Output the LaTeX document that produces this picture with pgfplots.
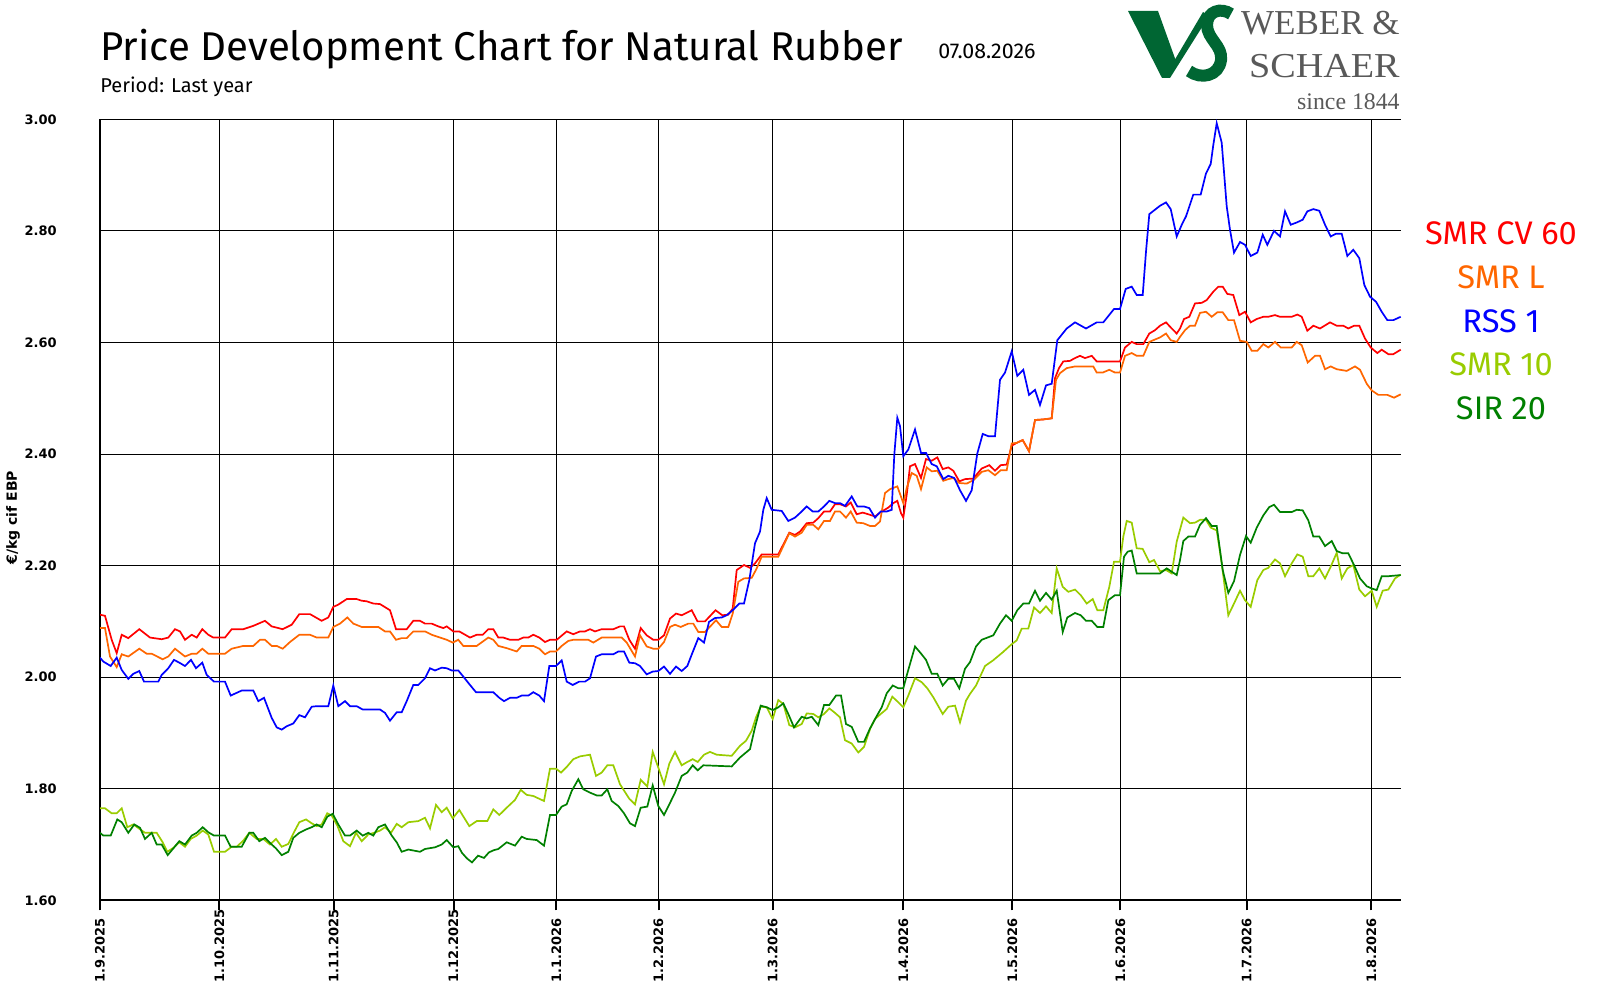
\documentclass[border=0pt]{standalone}
\usepackage{fontspec}
\usepackage{pgfplots}
\pgfplotsset{compat=1.18}
\setmainfont{Fira Sans}
\newfontfamily\djb{DejaVu Sans}
\newfontfamily\serifl{Liberation Serif}
\definecolor{smrcv}{HTML}{FF0000}
\definecolor{smrl}{HTML}{FF6600}
\definecolor{rss}{HTML}{0000FF}
\definecolor{smrten}{HTML}{99CC00}
\definecolor{sirtw}{HTML}{008000}
\definecolor{logogreen}{HTML}{006633}
\definecolor{logogray}{HTML}{595959}
\begin{document}
\begin{tikzpicture}
\path[use as bounding box] (0,0) rectangle (800pt,-500pt);
% titles
\node[anchor=base west, inner sep=0pt, font=\fontsize{20.1pt}{24pt}\selectfont] at (50pt,-30.5pt) {Price Development Chart for Natural Rubber};
\node[anchor=base west, inner sep=0pt, font=\fontsize{10.7pt}{12pt}\selectfont] at (469pt,-29.5pt) {07.08.2026};
\node[anchor=base west, inner sep=0pt, font=\fontsize{10pt}{12pt}\selectfont] at (50pt,-46.3pt) {Period: Last year};
% logo (graphic)
\begin{scope}[x=0.5pt, y=-0.5pt]
\fill[logogreen] (1128,11) -- (1158,11) -- (1177,64) -- (1169,78) -- (1162,78) -- cycle;
\fill[logogreen] (1164,78) -- (1170,78) -- (1209,16) -- (1203,12) -- cycle;
\draw[logogreen, line width=6pt, line cap=butt] (1231,14) .. controls (1221,7) and (1207,11) .. (1207,25) .. controls (1207,39) and (1223,46) .. (1221,60) .. controls (1219,76) and (1201,80) .. (1189,71);
\end{scope}
\node[anchor=base east, inner sep=0pt, text=logogray, font=\serifl\fontsize{17.5pt}{20pt}\selectfont] at (700pt,-17.5pt) {WEBER \&};
\node[anchor=base east, inner sep=0pt, text=logogray, font=\serifl\fontsize{17.5pt}{20pt}\selectfont] at (700pt,-39pt) {\scalebox{1.09}[1]{SCHAER}};
\node[anchor=base east, inner sep=0pt, text=logogray, font=\serifl\fontsize{11.9pt}{14pt}\selectfont] at (700pt,-55pt) {since 1844};
% legend labels
\node[anchor=base, inner sep=0pt, text=smrcv, font=\fontsize{16.3pt}{18pt}\selectfont] at (750.5pt,-122.25pt) {SMR CV 60};
\node[anchor=base, inner sep=0pt, text=smrl, font=\fontsize{16.3pt}{18pt}\selectfont] at (750.5pt,-144.25pt) {SMR L};
\node[anchor=base, inner sep=0pt, text=rss, font=\fontsize{16.3pt}{18pt}\selectfont] at (750.5pt,-166.25pt) {RSS 1};
\node[anchor=base, inner sep=0pt, text=smrten, font=\fontsize{16.3pt}{18pt}\selectfont] at (750.5pt,-187.75pt) {SMR 10};
\node[anchor=base, inner sep=0pt, text=sirtw, font=\fontsize{16.3pt}{18pt}\selectfont] at (750.5pt,-209.75pt) {SIR 20};
\begin{axis}[
  scale only axis, width=650.5pt, height=390.5pt,
  at={(50pt,-450.15pt)}, anchor=south west,
  xmin=100, xmax=1401, ymin=1.6, ymax=3.0,
  axis x line=bottom, axis y line=left,
  axis line style={-, line width=1pt, black},
  xtick={100,219.3,333.7,453.5,556.3,658.5,772.7,903.3,1012.3,1120.3,1246.7,1371.3},
  xticklabels={1.9.2025,1.10.2025,1.11.2025,1.12.2025,1.1.2026,1.2.2026,1.3.2026,1.4.2026,1.5.2026,1.6.2026,1.7.2026,1.8.2026},
  ytick={1.6,1.8,2.0,2.2,2.4,2.6,2.8,3.0},
  yticklabels={1.60,1.80,2.00,2.20,2.40,2.60,2.80,3.00},
  grid=major, grid style={black, line width=0.5pt},
  tick align=outside, major tick length=5pt,
  xtick style={black, line width=1pt},
  ytick style={draw=none},
  xticklabel style={font=\djb\bfseries\fontsize{6.5pt}{7pt}\selectfont, yshift=-36.5pt, rotate=90, anchor=west, inner sep=0pt},
  yticklabel style={font=\djb\bfseries\fontsize{6.5pt}{7pt}\selectfont, anchor=east, inner sep=0pt, xshift=-16.5pt},
  ylabel={€/kg cif EBP},
  every axis y label/.style={at={(axis description cs:-0.0669,0.490)}, rotate=90, anchor=center, font=\djb\bfseries\fontsize{7pt}{8pt}\selectfont},
  every axis plot/.append style={line width=0.85pt, mark=none},
]
\addplot[smrcv] coordinates {(100,2.112)(105,2.110)(111.7,2.067)(116.7,2.043)(121.7,2.076)(128.3,2.070)(139.3,2.086)(150,2.071)(161.7,2.068)(168.3,2.071)(175,2.086)(180,2.082)(185,2.067)(191.7,2.076)(196.7,2.071)(202.3,2.086)(208.3,2.076)(213.3,2.071)(225,2.071)(231.7,2.086)(243.3,2.086)(253.3,2.092)(265,2.101)(271.7,2.091)(282.7,2.086)(291.7,2.094)(299.3,2.113)(310,2.113)(321.7,2.101)(328.3,2.107)(333.3,2.126)(338.3,2.130)(346.7,2.140)(356.7,2.140)(361.7,2.137)(366.7,2.136)(373.3,2.132)(380,2.131)(390,2.120)(396,2.086)(406.7,2.086)(413.3,2.101)(420,2.101)(425,2.096)(431.7,2.096)(438.3,2.091)(443.3,2.088)(446.7,2.091)(453.3,2.082)(459.3,2.082)(470,2.071)(476.7,2.076)(482.7,2.076)(488.3,2.086)(493.3,2.086)(498.3,2.071)(503.3,2.071)(510,2.067)(518.3,2.067)(523.3,2.071)(528.3,2.071)(533.3,2.076)(539.3,2.071)(545,2.063)(550,2.067)(556.7,2.067)(566.7,2.082)(573.3,2.077)(580,2.082)(585,2.082)(590,2.086)(595,2.082)(601.7,2.086)(613.3,2.086)(620,2.091)(624,2.091)(629.3,2.067)(635,2.051)(640.7,2.088)(646.7,2.075)(653.3,2.067)(658.3,2.067)(664,2.075)(670,2.105)(676,2.114)(681.7,2.111)(691.7,2.120)(697.5,2.100)(705,2.100)(715.5,2.120)(722.3,2.111)(728.3,2.112)(732.7,2.123)(736.7,2.192)(744,2.201)(750,2.196)(755,2.204)(761.7,2.220)(778.3,2.220)(789.3,2.259)(795,2.255)(800,2.261)(806.7,2.276)(813.3,2.277)(818.3,2.285)(824,2.297)(830,2.297)(835,2.310)(840,2.310)(846,2.306)(850.7,2.313)(856.7,2.292)(862.7,2.295)(868.3,2.292)(875,2.288)(880,2.295)(888.3,2.304)(893.3,2.312)(897.3,2.316)(901,2.294)(903.3,2.286)(906.7,2.327)(910,2.378)(915,2.382)(921,2.357)(926,2.391)(931.7,2.388)(937.3,2.394)(942.7,2.373)(948.3,2.376)(953.3,2.370)(959.3,2.351)(965,2.355)(973.3,2.356)(981.7,2.374)(989.3,2.380)(995,2.370)(1000.7,2.380)(1006.7,2.381)(1011.7,2.415)(1016.7,2.420)(1022.7,2.425)(1029,2.405)(1035,2.461)(1043.3,2.462)(1051.7,2.464)(1055,2.536)(1059,2.554)(1063.3,2.566)(1070,2.567)(1075,2.572)(1080,2.576)(1085,2.572)(1091.7,2.576)(1096.7,2.566)(1120,2.566)(1125,2.591)(1131.7,2.601)(1136.7,2.597)(1143.3,2.597)(1149.3,2.616)(1155,2.622)(1160,2.630)(1166,2.636)(1171.7,2.625)(1176.7,2.616)(1180,2.625)(1184,2.642)(1189.3,2.646)(1195,2.670)(1201.7,2.671)(1206.7,2.676)(1213.3,2.691)(1218.3,2.700)(1222.7,2.700)(1227.3,2.687)(1233.3,2.685)(1239.3,2.649)(1245,2.655)(1250.7,2.636)(1256.7,2.642)(1263.3,2.646)(1268.3,2.646)(1275,2.649)(1280,2.646)(1291.7,2.646)(1297.3,2.650)(1301.7,2.646)(1307.3,2.621)(1313.3,2.630)(1320,2.625)(1330,2.636)(1336.7,2.630)(1343.3,2.630)(1348.3,2.625)(1354,2.630)(1359.3,2.630)(1365,2.607)(1370.7,2.591)(1377.3,2.581)(1381.7,2.587)(1388.3,2.579)(1393.3,2.579)(1400.7,2.587)};
\addplot[smrl] coordinates {(100,2.088)(105,2.088)(110,2.037)(116.7,2.018)(121.7,2.041)(128.3,2.037)(139.3,2.051)(146.7,2.042)(151.7,2.042)(162.7,2.032)(168.3,2.037)(175,2.051)(185,2.037)(191.7,2.042)(196.7,2.042)(202.3,2.051)(208.3,2.042)(225,2.042)(231.7,2.051)(243.3,2.056)(253.3,2.056)(260,2.067)(265,2.067)(271.7,2.056)(276.7,2.056)(282.7,2.051)(290,2.063)(299.3,2.076)(310,2.076)(316.7,2.071)(328.3,2.071)(333.3,2.090)(340,2.096)(347.3,2.107)(353.3,2.096)(361.7,2.090)(378.3,2.090)(385,2.082)(390,2.082)(396,2.067)(401.7,2.070)(406.7,2.070)(413.3,2.082)(425,2.082)(431.7,2.076)(440,2.071)(446.7,2.067)(452.7,2.062)(458.3,2.067)(463.3,2.056)(476.7,2.056)(488.3,2.071)(493.3,2.067)(498.3,2.056)(506.7,2.052)(516.7,2.046)(521.7,2.056)(533.3,2.056)(539.3,2.051)(545,2.041)(550,2.046)(556,2.046)(561.7,2.056)(568.3,2.065)(573.3,2.067)(588.3,2.067)(593.3,2.062)(601.7,2.071)(621.7,2.071)(626.7,2.062)(635,2.037)(640,2.075)(646.7,2.055)(653.3,2.051)(658.3,2.051)(664,2.063)(670,2.090)(675,2.094)(680.7,2.090)(688.3,2.096)(693.3,2.096)(698.3,2.081)(705,2.081)(716,2.102)(721.7,2.090)(728.3,2.090)(732.7,2.114)(738.3,2.171)(744,2.177)(751.7,2.178)(756.7,2.195)(761.7,2.216)(778.3,2.216)(789.3,2.258)(795,2.252)(801.7,2.259)(806.7,2.273)(813.3,2.273)(818.3,2.265)(824,2.280)(830,2.280)(835,2.297)(840,2.297)(846,2.286)(850.7,2.297)(856.7,2.277)(863.3,2.276)(870,2.271)(875,2.271)(880,2.279)(885,2.330)(890,2.337)(897.3,2.342)(903.3,2.312)(906.7,2.339)(911.7,2.366)(916.7,2.361)(921,2.337)(926.7,2.376)(931.7,2.369)(937.3,2.370)(943.3,2.352)(948.3,2.355)(953.3,2.357)(959.3,2.348)(966.7,2.347)(973.3,2.353)(981.7,2.368)(988.3,2.371)(995,2.362)(1000.7,2.371)(1006.7,2.371)(1011.7,2.419)(1016.7,2.420)(1022.7,2.425)(1029,2.405)(1035,2.461)(1043.3,2.462)(1051.7,2.464)(1056,2.533)(1060,2.545)(1066.7,2.554)(1075,2.557)(1093.3,2.557)(1096.7,2.546)(1102.7,2.546)(1109.3,2.551)(1115,2.546)(1120,2.546)(1125,2.576)(1131.7,2.581)(1136.7,2.576)(1143.3,2.576)(1149.3,2.601)(1160,2.609)(1166,2.616)(1170.7,2.604)(1176.7,2.601)(1180,2.610)(1185,2.622)(1190,2.630)(1195,2.630)(1200,2.653)(1206,2.655)(1211.7,2.646)(1217.3,2.654)(1222.7,2.654)(1228.3,2.640)(1234,2.640)(1240,2.603)(1246.7,2.601)(1251.7,2.585)(1257.3,2.585)(1263.3,2.597)(1268.3,2.591)(1275,2.601)(1280.7,2.591)(1291.7,2.591)(1296.7,2.601)(1301.7,2.595)(1307.7,2.564)(1315,2.576)(1320,2.576)(1325,2.552)(1330.7,2.557)(1336.7,2.552)(1346.7,2.549)(1355,2.557)(1360,2.551)(1366.7,2.526)(1371.7,2.514)(1378.3,2.506)(1387.3,2.506)(1394,2.501)(1400.7,2.507)};
\addplot[rss] coordinates {(100,2.035)(103.3,2.028)(110.7,2.020)(116.7,2.035)(121.7,2.013)(128.3,1.997)(133.3,2.006)(139.3,2.011)(144,1.992)(158.3,1.992)(161.7,2.004)(168.3,2.016)(174,2.031)(179.3,2.026)(185,2.020)(191,2.031)(196,2.016)(202.3,2.026)(206.7,2.004)(214,1.992)(225,1.992)(230.7,1.967)(241.7,1.976)(253.3,1.976)(258.3,1.957)(264,1.963)(271.7,1.927)(276.7,1.910)(281.7,1.906)(286.7,1.912)(293.3,1.917)(299.3,1.932)(305,1.928)(311.7,1.947)(316.7,1.948)(328.3,1.948)(333.3,1.985)(338.3,1.948)(345,1.957)(350,1.948)(356.7,1.948)(362.7,1.942)(380,1.942)(385,1.936)(390,1.922)(396.7,1.937)(401.7,1.937)(406.7,1.957)(413.3,1.986)(418.3,1.986)(425,1.998)(430,2.016)(435,2.012)(441.7,2.017)(446.7,2.016)(451.7,2.012)(458.3,2.012)(463.3,2.001)(470,1.986)(476,1.973)(493.3,1.973)(499.3,1.963)(504,1.957)(510,1.963)(516.7,1.963)(521.7,1.967)(528.3,1.967)(533.3,1.973)(539.3,1.967)(544,1.957)(549.3,2.020)(556,2.020)(561.7,2.030)(566.7,1.992)(572.7,1.986)(579.3,1.992)(585,1.992)(590,1.998)(596,2.037)(601.7,2.041)(613.3,2.041)(618.3,2.046)(624,2.046)(629.3,2.026)(635,2.025)(640,2.020)(646.7,2.005)(652.7,2.010)(658.3,2.011)(664,2.019)(670,2.006)(676,2.019)(681.7,2.011)(687.3,2.020)(692.7,2.045)(698.3,2.070)(704,2.062)(709,2.099)(715,2.106)(721.7,2.107)(726.7,2.111)(733.3,2.121)(739.3,2.132)(744,2.132)(749.3,2.174)(755,2.240)(760,2.261)(763.3,2.300)(766.7,2.321)(771.7,2.300)(781.7,2.298)(788.3,2.280)(795,2.286)(801.7,2.297)(806.7,2.306)(812.7,2.297)(818.3,2.297)(824,2.306)(829.3,2.316)(835,2.312)(840,2.312)(845,2.307)(851.7,2.324)(857.3,2.306)(864,2.306)(869.3,2.303)(875,2.286)(880.7,2.297)(886.7,2.297)(891.7,2.300)(894.3,2.399)(897.3,2.465)(900,2.450)(903.3,2.396)(908.3,2.408)(915,2.444)(921,2.402)(926,2.402)(931.7,2.382)(936.7,2.378)(943.3,2.355)(948.3,2.361)(954.3,2.357)(960,2.335)(966,2.316)(971.7,2.335)(977.3,2.401)(982.7,2.436)(988.3,2.432)(995,2.432)(1000,2.533)(1005,2.546)(1011.7,2.584)(1017.3,2.540)(1023.3,2.551)(1029,2.506)(1035,2.515)(1040,2.488)(1046,2.523)(1051.7,2.526)(1057.3,2.604)(1066.7,2.625)(1075,2.636)(1086,2.625)(1096.7,2.636)(1103.3,2.636)(1114,2.660)(1120,2.660)(1125.7,2.696)(1131.7,2.700)(1136.7,2.685)(1142.7,2.685)(1146,2.763)(1149.3,2.830)(1155,2.838)(1160,2.845)(1166,2.851)(1170.7,2.839)(1176.7,2.790)(1182,2.812)(1186,2.826)(1193.3,2.865)(1200.7,2.865)(1206,2.903)(1210.7,2.920)(1213.3,2.954)(1216.7,2.993)(1221.7,2.958)(1226.7,2.844)(1230,2.802)(1234,2.761)(1240,2.780)(1245,2.775)(1250.7,2.755)(1257.3,2.761)(1262.7,2.793)(1267.3,2.775)(1274,2.800)(1280,2.790)(1285,2.835)(1290.7,2.811)(1296.7,2.815)(1302.7,2.820)(1307.3,2.835)(1313.3,2.839)(1319.3,2.836)(1325,2.811)(1330.7,2.790)(1336,2.795)(1341.7,2.795)(1347.3,2.755)(1353.3,2.766)(1359.3,2.751)(1364.3,2.703)(1370,2.682)(1376,2.673)(1381.7,2.655)(1387.3,2.640)(1393.3,2.640)(1400.7,2.646)};
\addplot[smrten] coordinates {(100,1.765)(105,1.765)(111.7,1.756)(116.7,1.756)(121.7,1.765)(127.3,1.731)(133.3,1.736)(145,1.721)(156.7,1.721)(162.7,1.704)(167.3,1.687)(173.3,1.694)(179.3,1.704)(185,1.696)(190.7,1.710)(196.7,1.716)(202.7,1.725)(208.3,1.718)(214,1.687)(225,1.687)(231.7,1.696)(236.7,1.696)(243.3,1.707)(249.3,1.721)(256.7,1.710)(263.3,1.710)(270,1.700)(276,1.710)(281.7,1.696)(288.3,1.701)(294,1.722)(299.3,1.740)(306,1.745)(311.7,1.738)(316.7,1.733)(321.7,1.736)(327.3,1.756)(331.7,1.752)(337.3,1.734)(343.3,1.706)(350,1.697)(356,1.721)(361.7,1.706)(368.3,1.718)(374,1.721)(380,1.725)(385,1.731)(391,1.721)(396.7,1.737)(401.7,1.731)(408.3,1.740)(418.3,1.742)(425,1.748)(430,1.729)(436,1.771)(441.7,1.758)(446.7,1.766)(452.7,1.747)(459.3,1.762)(469.3,1.733)(476.7,1.742)(487.3,1.742)(493.3,1.763)(499.3,1.753)(506.7,1.766)(515,1.780)(520.7,1.798)(526.7,1.789)(533.3,1.787)(544,1.778)(550,1.836)(556,1.836)(561,1.829)(566.7,1.839)(573.3,1.853)(580,1.858)(590,1.861)(596,1.823)(601.7,1.829)(607.3,1.842)(613.3,1.842)(620,1.808)(629.3,1.782)(635,1.772)(640.7,1.816)(647.3,1.804)(652.7,1.866)(658.3,1.838)(664,1.808)(669.3,1.845)(675,1.866)(681.7,1.842)(687.3,1.848)(692.7,1.853)(697.7,1.848)(704,1.861)(710,1.866)(716.7,1.861)(731.7,1.859)(740,1.877)(746,1.886)(751.7,1.904)(756,1.928)(760.7,1.947)(766.7,1.946)(772.7,1.925)(778.3,1.959)(783.3,1.952)(789.3,1.914)(795,1.910)(801.7,1.916)(806.7,1.935)(813.3,1.934)(818.3,1.928)(824,1.934)(829.3,1.944)(834.3,1.937)(840,1.928)(845,1.887)(851.7,1.881)(858.3,1.865)(864,1.875)(870,1.907)(875,1.925)(880.7,1.934)(886.7,1.943)(892.3,1.965)(898.3,1.955)(903.3,1.946)(908.3,1.967)(915,1.998)(921.7,1.991)(927.3,1.980)(933.3,1.964)(942.7,1.934)(948.3,1.947)(955,1.949)(960,1.919)(966,1.958)(970,1.970)(976,1.985)(985,2.020)(993,2.030)(1003,2.045)(1011,2.058)(1016.7,2.066)(1021.7,2.087)(1028.3,2.087)(1034,2.125)(1040,2.115)(1046,2.127)(1051.7,2.115)(1056.7,2.195)(1062.7,2.162)(1068.3,2.153)(1075,2.157)(1080.7,2.147)(1086.7,2.132)(1092.7,2.140)(1097.3,2.120)(1103.3,2.120)(1109.3,2.162)(1114,2.207)(1120,2.207)(1123.3,2.252)(1126.7,2.280)(1131.7,2.277)(1136.7,2.231)(1142.7,2.230)(1149.3,2.206)(1154,2.210)(1160,2.190)(1166,2.192)(1171.7,2.186)(1176.7,2.243)(1183.3,2.286)(1190,2.276)(1195,2.277)(1200,2.282)(1206,2.282)(1210.7,2.268)(1216.7,2.263)(1221.7,2.204)(1228.3,2.111)(1234,2.132)(1240,2.155)(1245,2.138)(1250.7,2.126)(1257.3,2.174)(1263.3,2.192)(1268.3,2.196)(1275,2.211)(1280,2.204)(1285,2.181)(1291.7,2.204)(1297.3,2.220)(1302.7,2.216)(1308.3,2.181)(1313.3,2.181)(1319.3,2.195)(1325,2.177)(1330.7,2.198)(1336.7,2.223)(1341.7,2.177)(1347.3,2.195)(1353.3,2.201)(1359.3,2.157)(1365,2.145)(1371.7,2.155)(1376.7,2.126)(1382.7,2.155)(1388.3,2.157)(1395,2.177)(1400.7,2.184)};
\addplot[sirtw] coordinates {(100,1.721)(103.3,1.716)(110.7,1.716)(117.3,1.745)(121.7,1.740)(128.3,1.721)(134.3,1.736)(140,1.730)(145,1.710)(151.7,1.721)(156.7,1.700)(161.7,1.700)(167.7,1.681)(173.3,1.693)(179.3,1.706)(185,1.700)(191.7,1.716)(196.7,1.721)(202.7,1.731)(208.3,1.722)(214,1.716)(225,1.716)(230.7,1.696)(241.7,1.696)(249.3,1.721)(253.3,1.721)(259.3,1.706)(265,1.712)(271.7,1.700)(276,1.693)(281.7,1.681)(288.3,1.687)(293.3,1.712)(299.3,1.721)(306,1.727)(311.7,1.731)(316.7,1.736)(321.7,1.731)(327.3,1.750)(332.7,1.755)(338.3,1.736)(345,1.716)(350,1.716)(356.7,1.725)(362.7,1.716)(368.3,1.721)(373.3,1.716)(378.3,1.731)(385,1.736)(391.7,1.716)(396.7,1.704)(401.7,1.687)(408.3,1.691)(420,1.687)(425,1.692)(435,1.695)(441.7,1.700)(446.7,1.708)(453.3,1.695)(458.3,1.697)(462,1.685)(467,1.675)(472,1.668)(478,1.680)(484,1.676)(489,1.686)(494,1.690)(498.3,1.692)(506.7,1.704)(515,1.698)(521.7,1.714)(526.7,1.710)(536.7,1.708)(544,1.698)(550,1.753)(556,1.753)(561.7,1.768)(566.7,1.772)(571.7,1.796)(578.3,1.817)(583.3,1.799)(590,1.793)(596.7,1.788)(601.7,1.788)(607.3,1.799)(611.7,1.778)(618.3,1.769)(624,1.756)(630,1.738)(635,1.733)(640.7,1.766)(647.3,1.768)(652.7,1.806)(658.3,1.769)(664,1.753)(669.3,1.772)(675,1.793)(681.7,1.823)(687.3,1.829)(692.7,1.842)(697.7,1.833)(703.3,1.842)(731.7,1.840)(740,1.856)(750,1.871)(755,1.910)(760.7,1.949)(766.7,1.946)(772.7,1.941)(778.3,1.946)(783.3,1.953)(788.3,1.934)(794,1.910)(801.7,1.929)(806.7,1.926)(811.7,1.929)(818.3,1.914)(824,1.950)(829.3,1.950)(836,1.967)(841,1.967)(846,1.916)(851.7,1.911)(858.3,1.884)(864,1.884)(870,1.908)(876,1.928)(881.7,1.946)(886.7,1.971)(892.7,1.985)(898.3,1.980)(903.3,1.980)(906.7,2.003)(915,2.055)(920.7,2.043)(926,2.031)(931.7,2.006)(937.3,2.006)(942.7,1.985)(948.3,1.997)(954,1.997)(959.3,1.980)(965,2.015)(970,2.027)(976,2.055)(981.7,2.067)(993.3,2.075)(1000,2.096)(1006,2.111)(1011.7,2.101)(1017.3,2.120)(1023.3,2.132)(1029,2.132)(1035,2.155)(1040,2.137)(1046,2.151)(1051.7,2.139)(1056.7,2.155)(1062.7,2.081)(1067.3,2.107)(1075,2.115)(1080.7,2.111)(1086,2.101)(1091.7,2.101)(1097.3,2.090)(1103.3,2.090)(1108.3,2.138)(1115,2.147)(1120,2.147)(1124,2.216)(1127.7,2.225)(1131.7,2.227)(1136.7,2.186)(1160,2.186)(1166.7,2.195)(1171.7,2.189)(1176.7,2.183)(1180,2.210)(1183.3,2.244)(1188.3,2.252)(1195,2.252)(1200,2.273)(1206,2.285)(1211.7,2.271)(1216.7,2.271)(1222.7,2.192)(1228.3,2.151)(1234,2.172)(1240,2.219)(1246,2.253)(1250.7,2.241)(1256.7,2.268)(1263.3,2.290)(1269.3,2.305)(1274,2.309)(1280,2.296)(1291.7,2.296)(1296.7,2.300)(1302.7,2.299)(1308.3,2.281)(1313.3,2.252)(1319.3,2.252)(1325,2.235)(1331.7,2.244)(1336.7,2.226)(1342.7,2.222)(1348.3,2.222)(1354,2.201)(1360,2.177)(1366.7,2.163)(1371.7,2.159)(1376.7,2.156)(1381.7,2.181)(1388.3,2.181)(1400.7,2.183)};
\end{axis}
\end{tikzpicture}
\end{document}
